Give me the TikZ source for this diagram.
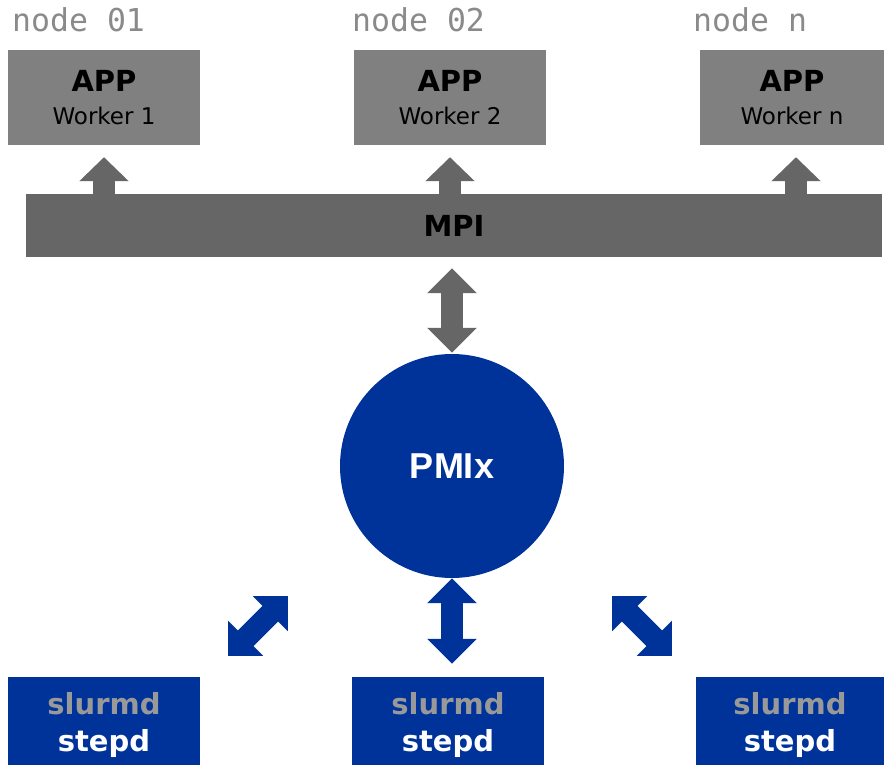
\documentclass[tikz,border=0pt]{standalone}
\usepackage{fontspec}
\setmainfont{DejaVu Sans}
\setmonofont{DejaVu Sans Mono}
\newfontfamily\pmixfont{Liberation Sans}
\usetikzlibrary{arrows.meta}
\definecolor{appgray}{HTML}{808080}
\definecolor{mpigray}{HTML}{666666}
\definecolor{labelgray}{HTML}{8A8A8A}
\definecolor{slurmgray}{HTML}{999999}
\definecolor{pmixblue}{HTML}{003399}

\begin{document}
\begin{tikzpicture}[
		x=1pt, y=-1pt,
		every node/.style={inner sep=0pt, align=center},
		hostlabel/.style={anchor=base west, text=labelgray, font=\ttfamily\fontsize{31.5}{36}\selectfont},
		appbox/.style={fill=appgray, minimum width=192pt, minimum height=95pt, font=\fontsize{23}{33}\selectfont},
		stepdbox/.style={fill=pmixblue, text=white, minimum width=192pt, minimum height=96pt, font=\bfseries\fontsize{29}{37}\selectfont},
		grayarrow/.style={draw=mpigray, line width=22pt, -{Triangle[width=48pt, length=24pt]}},
		graydouble/.style={draw=mpigray, line width=22pt, {Triangle[width=48pt, length=25pt]}-{Triangle[width=48pt, length=25pt]}},
		bluedouble/.style={draw=pmixblue, line width=22pt, {Triangle[width=48pt, length=25pt]}-{Triangle[width=48pt, length=25pt]}}
		]
		\useasboundingbox (0,0) rectangle (884,765);

		\node[hostlabel] (host1) at (12,32) {node 01};
		\node[hostlabel] (host2) at (352,32) {node 02};
		\node[hostlabel] (host3) at (693,32) {node n};

		\node[appbox] (app1) at (104,97.5) {{\bfseries\fontsize{29}{33}\selectfont APP}\\Worker 1};
		\node[appbox] (app2) at (450,97.5) {{\bfseries\fontsize{29}{33}\selectfont APP}\\Worker 2};
		\node[appbox, minimum width=184pt] (app3) at (792,97.5) {{\bfseries\fontsize{29}{33}\selectfont APP}\\Worker n};

		\node[fill=mpigray, minimum width=856pt, minimum height=63pt, font=\bfseries\fontsize{29}{33}\selectfont] (mpi) at (454,225.5) {MPI};

		\node[circle, fill=pmixblue, minimum size=224pt, text=white, font=\pmixfont\bfseries\fontsize{36}{40}\selectfont] (pmix) at (452,466) {PMIx};

		\node[stepdbox] (stepd1) at (104,725) {{\color{slurmgray}slurmd}\\stepd};
		\node[stepdbox] (stepd2) at (448,725) {{\color{slurmgray}slurmd}\\stepd};
		\node[stepdbox, minimum width=188pt] (stepd3) at (790,725) {{\color{slurmgray}slurmd}\\stepd};

		\coordinate (left top) at (288,596);
		\coordinate (left bottom) at (228,656);
		\coordinate (right top) at (612,596);
		\coordinate (right bottom) at (672,656);

		\draw[grayarrow, shorten >=12pt] (mpi.north -| app1) -- (app1.south);
		\draw[grayarrow, shorten >=12pt] (mpi.north -| app2) -- (app2.south);
		\draw[grayarrow, shorten >=12pt] ([xshift=4pt]mpi.north -| app3) -- ([xshift=4pt]app3.south);
		\draw[graydouble, shorten <=11pt, shorten >=1pt] (mpi.south -| pmix) -- (pmix.north);
		\draw[bluedouble, shorten >=13pt] (pmix.south) -- (pmix.south |- stepd2.north);
		\draw[bluedouble] (left top) -- (left bottom);
		\draw[bluedouble] (right top) -- (right bottom);
\end{tikzpicture}
\end{document}
